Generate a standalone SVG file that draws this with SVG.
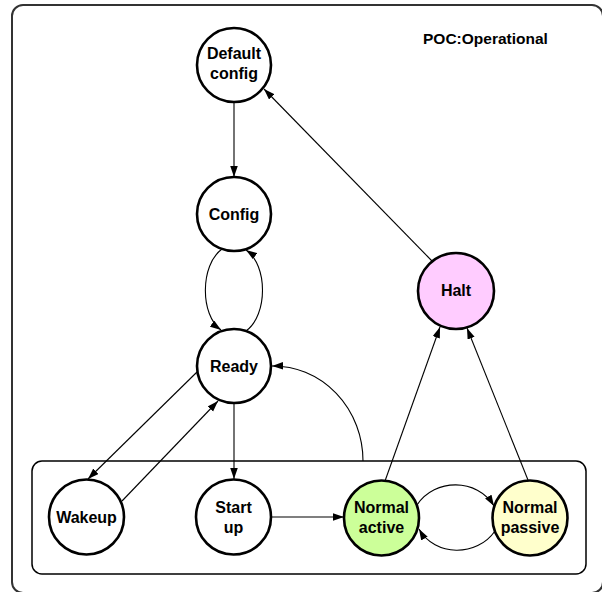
<svg xmlns="http://www.w3.org/2000/svg" width="602" height="592" viewBox="0 0 602 592">
<style>
.node circle{stroke:#000;stroke-width:2.6;fill:#fff}
.node text,.title{font-family:"Liberation Sans",Arial,sans-serif;font-weight:bold;font-size:16px;fill:#000;text-anchor:middle}
.title{font-size:15.5px;text-anchor:start}
.edges path{fill:none;stroke:#000;stroke-width:1.1;marker-end:url(#arr)}
.frame{fill:none;stroke:#333;stroke-width:2}
.box{fill:none;stroke:#000;stroke-width:1.5}
</style>
<defs>
<marker id="arr" markerUnits="userSpaceOnUse" markerWidth="12" markerHeight="8" refX="11" refY="3.75" orient="auto">
<path d="M0,0 L11,3.75 L0,7.5 z" fill="#000"/>
</marker>
</defs>
<rect class="frame" x="12" y="5" width="591" height="588" rx="11"/>
<text class="title" x="423" y="44">POC:Operational</text>
<rect id="composite" class="box" x="32" y="461" width="554" height="113" rx="10"/>
<g class="edges">
<path d="M234,103 L234,177"/>
<path d="M222,249 C200,265 200,315 221,330"/>
<path d="M246,331 C268,315 268,265 246,250"/>
<path d="M432,261 L264,89"/>
<path d="M197,372 L88,479"/>
<path d="M122,501 L218,401"/>
<path d="M234,403 L234,479"/>
<path d="M271,517 L344,517"/>
<path d="M363,461 A90,95 0 0 0 272,366"/>
<path d="M385,481 L440,327"/>
<path d="M528,480 L467,328"/>
<path d="M417,505 C435,478 477,478 494,506"/>
<path d="M495,531 C477,557 435,557 419,529"/>
</g>
<g id="default-config" class="node"><circle cx="234" cy="65" r="37"/><text x="234" y="59">Default</text><text x="234" y="79">config</text></g>
<g id="config" class="node"><circle cx="234" cy="214" r="37"/><text x="234" y="219.5">Config</text></g>
<g id="ready" class="node"><circle cx="234" cy="366" r="37"/><text x="234" y="371.5">Ready</text></g>
<g id="halt" class="node"><circle cx="456" cy="291" r="38" style="fill:#ffccff"/><text x="456" y="296">Halt</text></g>
<g id="wakeup" class="node"><circle cx="86.5" cy="517" r="37.5"/><text x="86.5" y="522.5">Wakeup</text></g>
<g id="startup" class="node"><circle cx="233.5" cy="517" r="37.5"/><text x="233.5" y="513">Start</text><text x="233.5" y="533">up</text></g>
<g id="normal-active" class="node"><circle cx="381.5" cy="518" r="37.5" style="fill:#ccff99"/><text x="381.5" y="513">Normal</text><text x="381.5" y="533">active</text></g>
<g id="normal-passive" class="node"><circle cx="530" cy="518" r="37.5" style="fill:#ffffcc"/><text x="530" y="513">Normal</text><text x="530" y="533">passive</text></g>
</svg>
